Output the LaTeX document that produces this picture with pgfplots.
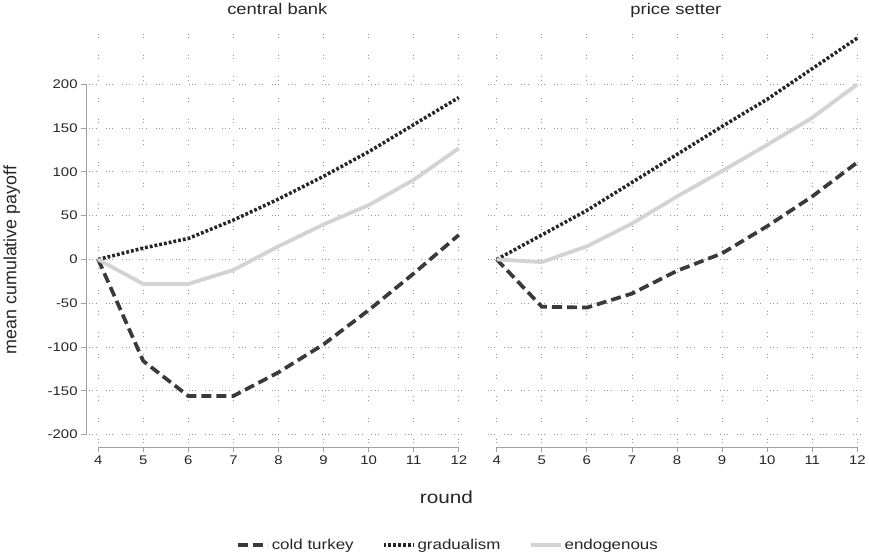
\documentclass[border=0pt]{standalone}
\usepackage{pgfplots}
\pgfplotsset{compat=1.18}
\usepackage{fontspec}
\setmainfont[FakeStretch=1.19]{Liberation Sans}
\newfontfamily\plainsans{Liberation Sans}

\definecolor{cturkey}{HTML}{3A3A3A}
\definecolor{gradual}{HTML}{262626}
\definecolor{endog}{HTML}{D3D3D3}
\definecolor{axisgray}{HTML}{A0A0A0}
\definecolor{gridgray}{HTML}{959595}

% central bank
\pgfplotstableread{
round ct gr en
4 0 0 0
5 -116 13 -28
6 -156 24 -28
7 -156 45 -12
8 -129 69 15
9 -97 95 40
10 -58 123 62
11 -16 154 91
12 28 185 127
}\cbank
% price setter
\pgfplotstableread{
round ct gr en
4 0 0 0
5 -54 28 -3
6 -55 56 15
7 -39 88 41
8 -13 120 72
9 7 152 101
10 38 183 131
11 72 218 162
12 111 253 200
}\psetter

\pgfplotsset{
  panel/.style={
    scale only axis, width=374bp, height=407bp,
    xmin=3.8, xmax=12.15, ymin=-210, ymax=258,
    xtick={4,...,12}, ytick={-200,-150,...,200},
    axis x line*=bottom, axis y line*=left,
    axis x line shift=4bp, axis y line shift=3bp,
    axis line style={draw=none},
    grid=major,
    major x grid style={gridgray, line width=0.9pt,
      dash pattern=on 0.9bp off 2.4bp on 0.9bp off 17bp},
    major y grid style={gridgray, line width=0.9pt,
      dash pattern=on 0.9bp off 2.4bp on 0.9bp off 2.4bp on 0.9bp off 9bp},
    tick align=outside, major tick length=5bp,
    tick style={axisgray, line width=0.9pt},
    ticklabel style={font=\fontsize{12.5}{14}\selectfont, text=black!85},
    /pgf/number format/assume math mode=true,
    clip=false,
    title style={at={(0.5,1)}, anchor=base, yshift=13bp,
      font=\fontsize{15.4}{17}\selectfont, text=black!85},
  },
  ct/.style={cturkey, line width=3.7pt, dash pattern=on 10bp off 5bp},
  gr/.style={gradual, line width=3.5pt, dash pattern=on 2.8bp off 2bp},
  en/.style={endog, line width=3.8pt},
}

\begin{document}
\begin{tikzpicture}
\begin{axis}[panel, at={(0,0)}, anchor=south west, title={central bank},
    legend columns=3,
    legend style={at={(0.953,-0.248)}, anchor=center, draw=none, fill=none,
      font=\fontsize{14.2}{16}\selectfont, text=black!85,
      /tikz/every even column/.append style={column sep=26bp}},
    legend image code/.code={\draw[#1] (0bp,0bp) -- (30bp,0bp);},
  ]
  \draw[axisgray, line width=1pt] ([yshift=-4bp]axis cs:4,-210) -- ([yshift=-4bp]axis cs:12,-210);
  \draw[axisgray, line width=1pt] ([xshift=-3bp]axis cs:3.8,-200) -- ([xshift=-3bp]axis cs:3.8,200);
  \addplot[ct] table[x=round, y=ct] {\cbank};
  \addlegendentry{cold turkey}
  \addplot[gr] table[x=round, y=gr] {\cbank};
  \addlegendentry{gradualism}
  \addplot[en] table[x=round, y=en] {\cbank};
  \addlegendentry{endogenous}
  \node[font=\fontsize{17.4}{19}\selectfont, text=black!85] at ([xshift=355bp, yshift=-54bp]rel axis cs:0,0) {round};
  \node[font=\plainsans\fontsize{17.8}{19}\selectfont, text=black!85, rotate=90] at ([xshift=-77bp, yshift=182bp]rel axis cs:0,0) {mean cumulative payoff};
\end{axis}
\begin{axis}[panel, at={(396bp,0)}, anchor=south west, title={price setter},
    yticklabels={}, ytick style={draw=none}]
  \draw[axisgray, line width=1pt] ([yshift=-4bp]axis cs:4,-210) -- ([yshift=-4bp]axis cs:12,-210);
  \addplot[ct] table[x=round, y=ct] {\psetter};
  \addplot[gr] table[x=round, y=gr] {\psetter};
  \addplot[en] table[x=round, y=en] {\psetter};
\end{axis}
\end{tikzpicture}
\end{document}
